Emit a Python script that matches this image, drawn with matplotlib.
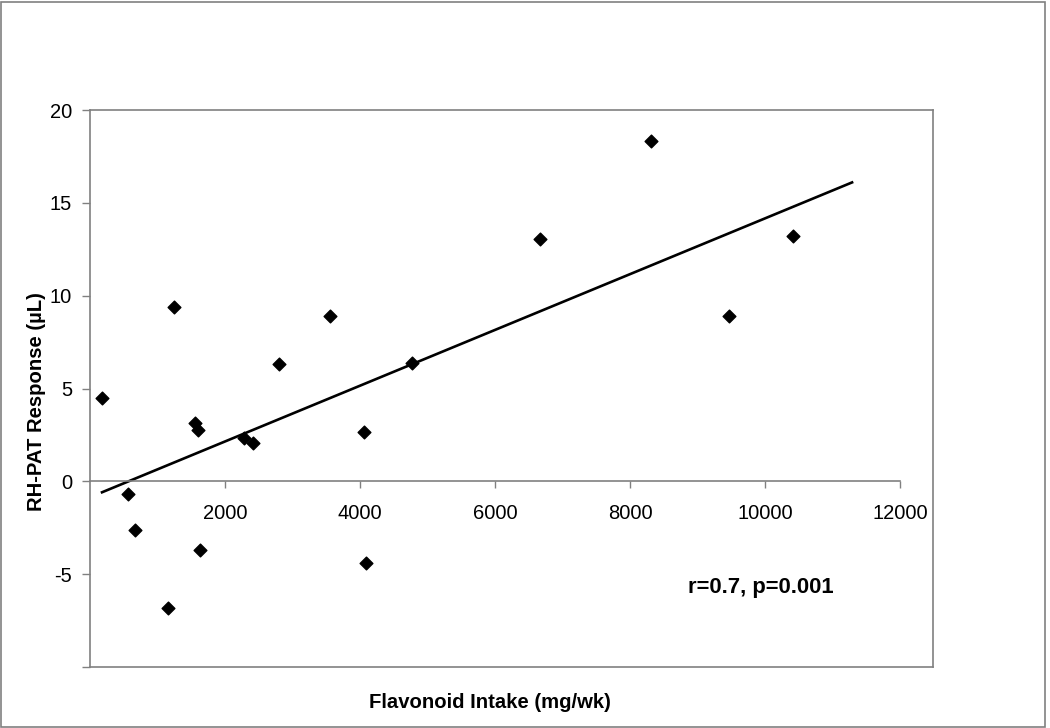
import matplotlib
matplotlib.use("Agg")
import matplotlib.pyplot as plt
from matplotlib.patches import Rectangle

plt.rcParams['font.family'] = ['Liberation Sans', 'DejaVu Sans']

# Data
intake = [173, 563, 667, 1156, 1244, 1556, 1600, 1630, 2281, 2415,
          2800, 3556, 4059, 4089, 4770, 6667, 8311, 9467, 10415]
response = [4.47, -0.70, -2.64, -6.84, 9.37, 3.12, 2.75, -3.72, 2.32, 2.05,
            6.30, 8.89, 2.64, -4.42, 6.35, 13.03, 18.31, 8.89, 13.19]
trend_x = [178, 11290]
trend_y = [-0.59, 16.1]
xticks = [2000, 4000, 6000, 8000, 10000, 12000]
yticks = [-10, -5, 0, 5, 10, 15, 20]
ytick_labels = ['', '-5', '0', '5', '10', '15', '20']

W, H = 1050, 728
fig = plt.figure(figsize=(W / 100, H / 100), dpi=100)
ax = fig.add_axes([90 / W, 1 - 667 / H, (933 - 90) / W, (667 - 110) / H])

gray = '#808080'
ax.scatter(intake, response, marker='D', s=42, color='black', zorder=3)
ax.plot(trend_x, trend_y, color='black', lw=1.9, zorder=2)

ax.set_xlim(0, 12489)
ax.set_ylim(-10, 20)

# frame
for s in ['top', 'right', 'left']:
    ax.spines[s].set_color(gray)
    ax.spines[s].set_linewidth(1.2)
ax.spines['bottom'].set_position(('data', 0))
ax.spines['bottom'].set_bounds(0, 12000)
ax.spines['bottom'].set_color(gray)
ax.spines['bottom'].set_linewidth(1.2)
ax.plot([0, 1], [0, 0], transform=ax.transAxes, color=gray, lw=1.2,
        clip_on=False, zorder=1)

ax.set_xticks(xticks)
ax.set_yticks(yticks)
ax.set_yticklabels(ytick_labels)
ax.tick_params(axis='x', direction='out', length=5, width=1.0, color=gray,
               labelsize=14.5, pad=11)
ax.tick_params(axis='y', direction='out', length=6, width=1.0, color=gray,
               labelsize=14.5, pad=7)

fig.text(37 / W, 1 - 402 / H, 'RH-PAT Response (µL)', rotation=90,
         ha='center', va='center', fontsize=14.6, fontweight='bold')
fig.text(490 / W, 1 - 703 / H, 'Flavonoid Intake (mg/wk)',
         ha='center', va='center', fontsize=14.6, fontweight='bold')
fig.text(688 / W, 1 - 588 / H, 'r=0.7, p=0.001',
         ha='left', va='center', fontsize=15.8, fontweight='bold')

fig.patches.append(Rectangle((1 / W, 1 / H), 1044 / W, 725 / H,
                             transform=fig.transFigure, fill=False,
                             edgecolor=gray, lw=1.2))

fig.savefig('out.png', dpi=100)
